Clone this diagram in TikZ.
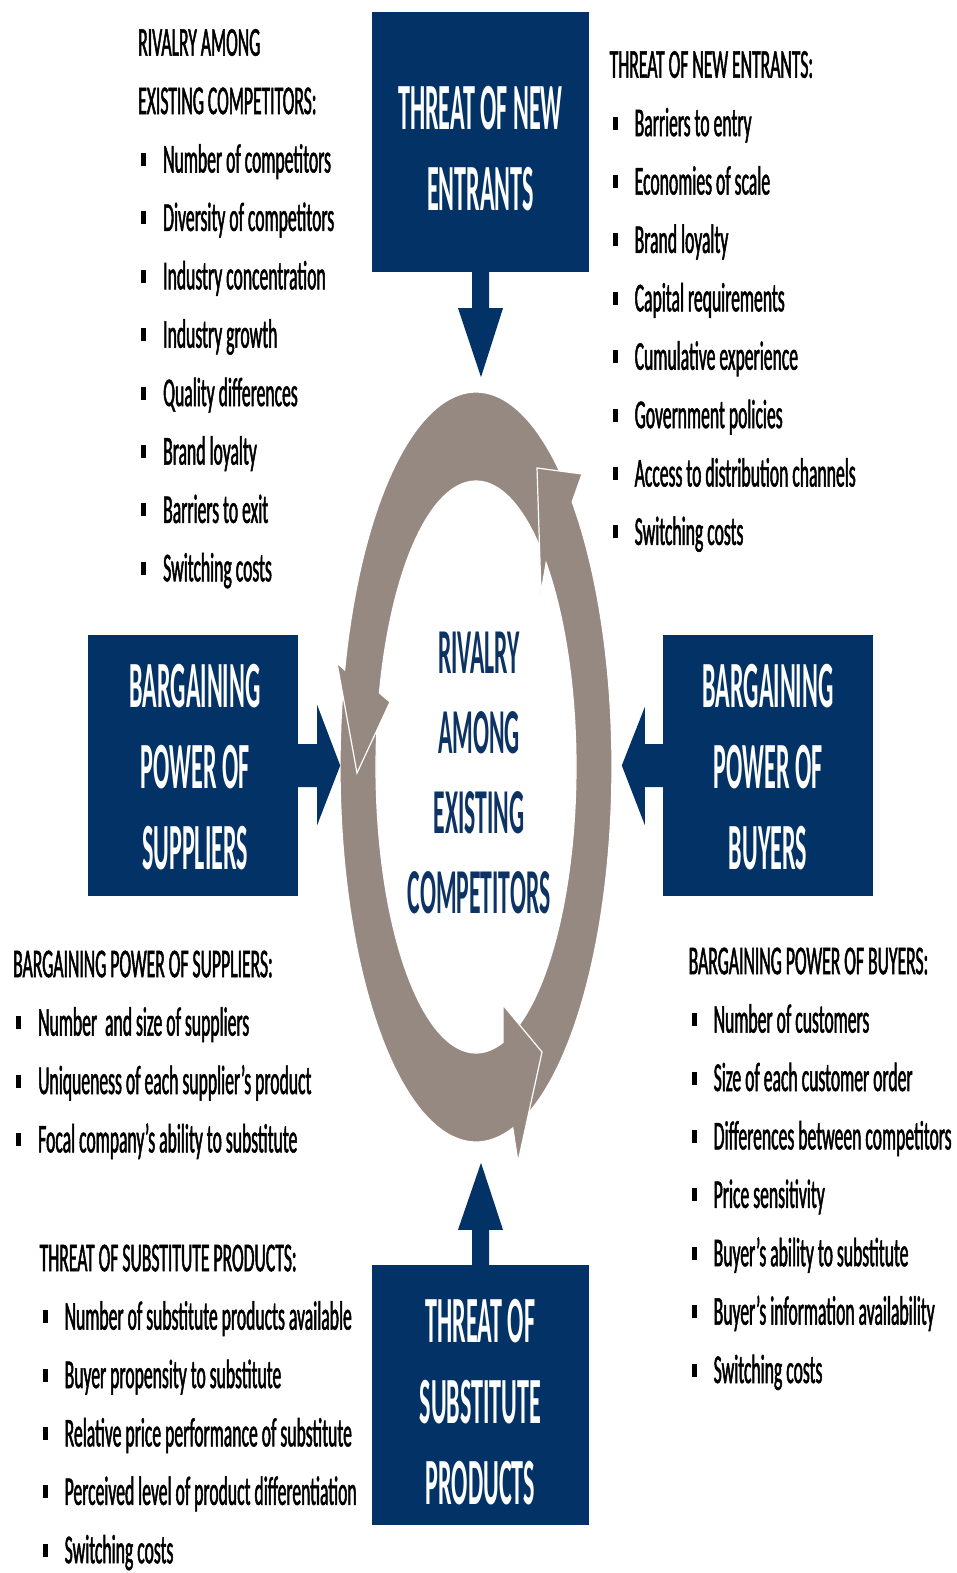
\documentclass[tikz,border=0pt]{standalone}
\usepackage{fontspec}
\setmainfont{Carlito}
\newfontfamily\listfont{Carlito}[FakeStretch=0.43, FakeBold=1.2]
\newfontfamily\boxfont{Carlito}[FakeStretch=0.365]
\newfontfamily\ctrfont{Carlito}[FakeStretch=0.37]
\usetikzlibrary{calc}
\definecolor{navy}{RGB}{3,51,102}
\definecolor{ringgray}{RGB}{150,137,129}
\definecolor{ctrnavy}{RGB}{13,50,100}
\newcommand\bl{\makebox[25pt][l]{\hspace{3pt}\rule[6.5pt]{5pt}{13pt}}}
\tikzset{
  ringarrow/.style={fill=ringgray, draw=white, line width=1.2pt, line join=miter},
  nbox/.style={fill=navy, inner sep=0pt, text=white, align=center,
    font=\boxfont\bfseries\fontsize{66}{81}\selectfont},
  ctr/.style={inner sep=0pt, text=ctrnavy, align=center,
    font=\ctrfont\bfseries\fontsize{64}{80}\selectfont},
  listnode/.style={inner sep=0pt, anchor=north west, align=left, text=black,
    font=\listfont\fontsize{41}{58.4}\selectfont},
  blockarrow/.style={fill=navy},
  arcs/.style={samples=60, variable=\t}
}
\begin{document}
\begin{tikzpicture}[x=1pt,y=-1pt]
\fill[white] (0,0) rectangle (957,1573);
\useasboundingbox (0,0) rectangle (957,1573);

% ---- circular arrows ----
% right arrow (bottom-right up to top-right)
\path[ringarrow] plot[arcs, domain=-45:74] ({476+136*cos(\t)},{767+375*sin(\t)})
  -- plot[arcs, domain=74:-45.5] ({476+100*cos(\t)},{767+286*sin(\t)})
  -- (541,593) -- (537,468) -- (582,474) -- cycle;
% bottom arrow (left down to bottom-right)
\path[ringarrow] plot[arcs, domain=195:74.3] ({476+136*cos(\t)},{767+375*sin(\t)})
  -- (518,1162) -- (542,1052) -- (503,1005)
  -- plot[arcs, domain=74.3:195] ({476+100*cos(\t)},{767+286*sin(\t)}) -- cycle;
% left arrow (top-right over top down to left)
\path[ringarrow] plot[arcs, domain=309:195] ({476+136*cos(\t)},{767+375*sin(\t)})
  -- (337,663) -- (357,773) -- (390,702)
  -- plot[arcs, domain=195:309] ({476+100*cos(\t)},{767+286*sin(\t)}) -- cycle;
% head of right arrow on top of left arrow's tail
\fill[ringgray] plot[arcs, domain=-8:-45] ({476+136*cos(\t)},{767+375*sin(\t)})
  -- (582,474) -- (537,468) -- (541,593)
  -- plot[arcs, domain=-45.5:-8] ({476+100*cos(\t)},{767+286*sin(\t)}) -- cycle;
\draw[white, line width=1.2pt, line join=miter] plot[arcs, domain=-8:-45.5] ({476+100*cos(\t)},{767+286*sin(\t)})
  -- (541,593) -- (537,468) -- (582,474)
  -- plot[arcs, domain=-45:-8] ({476+136*cos(\t)},{767+375*sin(\t)});

% ---- centre text ----
\node[ctr] (riv) at (479,772.5) {RIVALRY\\AMONG\\EXISTING\\COMPETITORS};

% ---- boxes ----
\node[nbox, minimum width=217pt, minimum height=260pt] (tne) at (480.5,142) {\rule{0pt}{57pt}THREAT OF NEW\\ENTRANTS};
\node[nbox, minimum width=210pt, minimum height=261pt] (sup) at (193,765.5) {\rule{0pt}{47pt}\hspace*{4pt}BARGAINING\\\hspace*{4pt}POWER OF\\\hspace*{4pt}SUPPLIERS};
\node[nbox, minimum width=210pt, minimum height=261pt] (buy) at (768,765.5) {\rule{0pt}{47pt}BARGAINING\\POWER OF\\BUYERS};
\node[nbox, minimum width=217pt, minimum height=260pt] (sub) at (480.5,1395) {\rule{0pt}{58pt}THREAT OF\\SUBSTITUTE\\PRODUCTS};

% ---- block arrows ----
\fill[blockarrow] ($(tne.south)+(-8.5,-1)$) -- ($(tne.south)+(-8.5,36)$) -- ($(tne.south)+(-22.5,36)$)
  -- ($(tne.south)+(0.5,105)$) -- ($(tne.south)+(22.5,36)$) -- ($(tne.south)+(8.5,36)$) -- ($(tne.south)+(8.5,-1)$) -- cycle;
\fill[blockarrow] ($(sub.north)+(-8.5,1)$) -- ($(sub.north)+(-8.5,-35)$) -- ($(sub.north)+(-22.5,-35)$)
  -- ($(sub.north)+(0.5,-102)$) -- ($(sub.north)+(22.5,-35)$) -- ($(sub.north)+(8.5,-35)$) -- ($(sub.north)+(8.5,1)$) -- cycle;
\fill[blockarrow] ($(sup.east)+(-1,-21.5)$) -- ($(sup.east)+(19,-21.5)$) -- ($(sup.east)+(19,-60.5)$)
  -- ($(sup.east)+(42,0)$) -- ($(sup.east)+(19,59.5)$) -- ($(sup.east)+(19,21.5)$) -- ($(sup.east)+(-1,21.5)$) -- cycle;
\fill[blockarrow] ($(buy.west)+(1,-21.5)$) -- ($(buy.west)+(-18,-21.5)$) -- ($(buy.west)+(-18,-58.5)$)
  -- ($(buy.west)+(-41,0)$) -- ($(buy.west)+(-18,59.5)$) -- ($(buy.west)+(-18,21.5)$) -- ($(buy.west)+(1,21.5)$) -- cycle;

% ---- lists ----
\node[listnode] (rivlist) at (138,23.5) {\rule{0pt}{32pt}RIVALRY AMONG\\EXISTING COMPETITORS:\\
\bl Number of competitors\\\bl Diversity of competitors\\\bl Industry concentration\\\bl Industry growth\\
\bl Quality differences\\\bl Brand loyalty\\\bl Barriers to exit\\\bl Switching costs};

\node[listnode] (newlist) at (609.5,45.5) {\rule{0pt}{32pt}THREAT OF NEW ENTRANTS:\\
\bl Barriers to entry\\\bl Economies of scale\\\bl Brand loyalty\\\bl Capital requirements\\
\bl Cumulative experience\\\bl Government policies\\\bl Access to distribution channels\\\bl Switching costs};

\node[listnode] (suplist) at (13,945) {\rule{0pt}{32pt}BARGAINING POWER OF SUPPLIERS:\\
\bl Number~ and size of suppliers\\\bl Uniqueness of each supplier’s product\\\bl Focal company’s ability to substitute};

\node[listnode] (sublist) at (39.5,1239) {\rule{0pt}{32pt}THREAT OF SUBSTITUTE PRODUCTS:\\
\bl Number of substitute products available\\\bl Buyer propensity to substitute\\
\bl Relative price performance of substitute\\\bl Perceived level of product differentiation\\\bl Switching costs};

\node[listnode] (buylist) at (688.5,942) {\rule{0pt}{32pt}BARGAINING POWER OF BUYERS:\\
\bl Number of customers\\\bl Size of each customer order\\\bl Differences between competitors\\
\bl Price sensitivity\\\bl Buyer’s ability to substitute\\\bl Buyer’s information availability\\\bl Switching costs};
\end{tikzpicture}
\end{document}
